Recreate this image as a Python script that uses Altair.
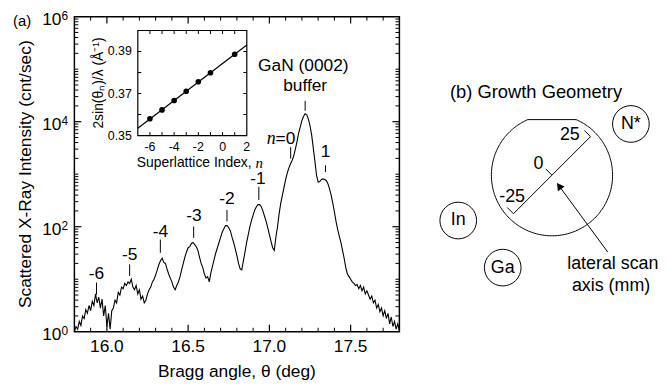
import altair as alt
import pandas as pd
import numpy as np

FONT = "Liberation Sans"
SERIF = "Liberation Serif"
W, H = 328, 318

# ---------------- (a) main scan data ----------------
theta = [
    15.80, 15.81, 15.82, 15.83, 15.84, 15.85, 15.86, 15.87, 15.88, 15.89,
    15.90, 15.91, 15.92, 15.93, 15.94, 15.95, 15.96, 15.97, 15.98, 15.99,
    16.00, 16.01, 16.02, 16.03, 16.04, 16.05, 16.06, 16.07, 16.08, 16.09,
    16.10, 16.11, 16.12, 16.13, 16.14, 16.15, 16.16, 16.17, 16.18, 16.19,
    16.20, 16.21, 16.22, 16.23, 16.24, 16.25, 16.26, 16.27, 16.28, 16.29,
    16.30, 16.31, 16.32, 16.33, 16.34, 16.35, 16.36, 16.37, 16.38, 16.39,
    16.40, 16.41, 16.42, 16.43, 16.44, 16.45, 16.46, 16.47, 16.48, 16.49,
    16.50, 16.51, 16.52, 16.53, 16.54, 16.55, 16.56, 16.57, 16.58, 16.59,
    16.60, 16.61, 16.62, 16.63, 16.64, 16.65, 16.66, 16.67, 16.68, 16.69,
    16.70, 16.71, 16.72, 16.73, 16.74, 16.75, 16.76, 16.77, 16.78, 16.79,
    16.80, 16.81, 16.82, 16.83, 16.84, 16.85, 16.86, 16.87, 16.88, 16.89,
    16.90, 16.91, 16.92, 16.93, 16.94, 16.95, 16.96, 16.97, 16.98, 16.99,
    17.00, 17.01, 17.02, 17.03, 17.04, 17.05, 17.06, 17.07, 17.08, 17.09,
    17.10, 17.11, 17.12, 17.13, 17.14, 17.15, 17.16, 17.17, 17.18, 17.19,
    17.20, 17.21, 17.22, 17.23, 17.24, 17.25, 17.26, 17.27, 17.28, 17.29,
    17.30, 17.31, 17.32, 17.33, 17.34, 17.35, 17.36, 17.37, 17.38, 17.39,
    17.40, 17.41, 17.42, 17.43, 17.44, 17.45, 17.46, 17.47, 17.48, 17.49,
    17.50, 17.51, 17.52, 17.53, 17.54, 17.55, 17.56, 17.57, 17.58, 17.59,
    17.60, 17.61, 17.62, 17.63, 17.64, 17.65, 17.66, 17.67, 17.68, 17.69,
    17.70, 17.71, 17.72, 17.73, 17.74, 17.75, 17.76, 17.77, 17.78, 17.79,
    17.80,
]
counts = [
    1.00, 1.26, 1.12, 1.58, 1.32, 2.00, 1.78, 2.63, 2.24, 3.16,
    2.51, 3.80, 3.16, 5.25, 3.55, 4.57, 2.82, 4.17, 2.00, 3.16,
    1.26, 2.24, 1.12, 2.51, 2.82, 3.98, 3.55, 5.62, 5.01, 7.08,
    6.61, 8.32, 7.59, 8.91, 8.32, 10.0, 7.08, 6.31, 7.59, 5.25,
    6.31, 4.17, 4.79, 3.55, 3.98, 5.25, 6.31, 7.08, 8.91, 10.0,
    12.0, 15.1, 19.1, 22.4, 25.1, 20.9, 20.0, 15.8, 12.6, 10.5,
    8.91, 7.08, 6.31, 7.59, 8.91, 11.2, 15.1, 20.0, 26.3, 33.1,
    39.8, 41.7, 47.9, 50.1, 45.7, 41.7, 35.5, 26.3, 20.0, 16.6,
    12.6, 10.5, 11.2, 8.91, 13.2, 17.8, 24.0, 31.6, 39.8, 50.1,
    63.1, 79.4, 91.2, 105, 105, 95.5, 83.2, 63.1, 50.1, 38.0,
    28.2, 20.0, 15.8, 15.1, 22.4, 33.1, 50.1, 70.8, 100, 132,
    166, 209, 240, 263, 263, 240, 200, 158, 126, 95.5,
    70.8, 52.5, 39.8, 35.5, 63.1, 100, 178, 282, 398, 562,
    794, 1047, 1318, 1585, 1820, 2239, 3020, 4169, 6026, 7943,
    10471, 12589, 14125, 13490, 11220, 8318, 5623, 3162, 1778, 955,
    708, 724, 794, 813, 794, 759, 661, 525, 398, 282,
    191, 126, 89.1, 66.1, 50.1, 35.5, 25.1, 16.6, 12.6, 11.2,
    10.0, 8.91, 8.32, 7.59, 7.94, 6.61, 7.59, 6.03, 7.08, 5.25,
    6.03, 5.01, 4.17, 4.79, 3.55, 3.98, 2.82, 3.31, 2.40, 2.82,
    2.00, 2.51, 1.78, 2.24, 1.41, 1.91, 1.26, 1.58, 1.12, 1.41,
    1.05,
]

# axis ticks / labels of (a)
x_dom = [15.8, 17.8]
y_dom = [1, 1e6]
x_tick_major = [16.0, 16.5, 17.0, 17.5]
x_tick_labels = ["16.0", "16.5", "17.0", "17.5"]
x_tick_minor = [15.9, 16.1, 16.2, 16.3, 16.4, 16.6, 16.7, 16.8, 16.9,
                17.1, 17.2, 17.3, 17.4, 17.6, 17.7]
y_tick_major = [1e2, 1e4]
y_tick_minor = [k * 10 ** d for d in range(6) for k in range(2, 10)] + [10, 1e3, 1e5]
y_label_vals = [1, 1e2, 1e4, 1e6]
y_label_exp = ["0", "2", "4", "6"]
x_title = "Bragg angle, θ (deg)"
y_title = "Scattered X-Ray Intensity (cnt/sec)"

# peak annotations of (a)
ann_text = ["-6", "-5", "-4", "-3", "-2", "-1", "1", "GaN (0002)", "buffer"]
ann_theta = [15.936, 16.140, 16.330, 16.536, 16.739, 16.930, 17.345, 17.209, 17.220]
ann_I = [12.4, 28.7, 79.4, 163, 333, 794, 2630, 114000, 47900]
mark_theta = [15.936, 16.140, 16.329, 16.534, 16.739, 16.935, 17.345, 17.131, 17.220]
mark_lo = [5.06, 11.5, 31.9, 61.2, 126, 324, 1104, 1977, 16144]
mark_hi = [8.67, 19.2, 56.9, 101, 209, 575, 1479, 3273, 24889]
n0_theta = 17.038
n0_I = 4721

# ---------------- inset data ----------------
sl_index = [-6, -5, -4, -3, -2, -1, 1]
sl_g = [0.3580, 0.3622, 0.3667, 0.3711, 0.3756, 0.3799, 0.3887]
in_x_ticks = [-6, -5, -4, -3, -2, -1, 0, 1]
in_y_ticks = [0.36, 0.37, 0.38, 0.39]
in_x_labels = [-6, -4, -2, 0, 2]
in_y_labels = [0.35, 0.37, 0.39]
in_xdom = [-7, 2]
in_ydom = [0.35, 0.40]

# ---------------- (b) growth geometry (mm) ----------------
wafer_r = 27.8
wafer_flat = 25.5
scan_pos = [-25, 0, 25]
scan_lab = ["-25", "0", "25"]
scan_lab_x = [-18.3, -6.2, 8.2]
scan_lab_y = [-9.9, 5.3, 18.2]
src_name = ["In", "Ga", "N*"]
src_x = [-43.0, -22.6, 36.2]
src_y = [-20.8, -42.4, 23.5]
arrow_tail = (25.6, -35.3)
arrow_head = (3.6, -5.4)
note_text = ["lateral scan", "axis (mm)"]
note_x = [27.9, 27.1]
note_y = [-40.9, -50.8]

# ======================================================
xs = alt.Scale(type="linear", domain=x_dom, nice=False, zero=False)
ys = alt.Scale(type="log", domain=y_dom, nice=False)


def ticks(df, xf, yf, xsc, ysc, path, length, sw=1.0):
    return alt.Chart(df).mark_point(
        shape=path, size=(2 * length) ** 2, filled=False, stroke="black",
        strokeWidth=sw, opacity=1
    ).encode(
        x=alt.X(f"{xf}:Q", scale=xsc, axis=None),
        y=alt.Y(f"{yf}:Q", scale=ysc, axis=None),
    )


def text(df, xsc, ysc, **kw):
    style = dict(align="center", baseline="middle", font=FONT, fontSize=17.5, color="black")
    style.update(kw)
    return alt.Chart(df).mark_text(**style).encode(
        x=alt.X("x:Q", scale=xsc, axis=None),
        y=alt.Y("y:Q", scale=ysc, axis=None),
        text="t:N",
    )


scan = pd.DataFrame({"theta": theta, "I": counts})
curve = alt.Chart(scan).mark_line(color="black", strokeWidth=1.1).encode(
    x=alt.X("theta:Q", scale=xs, axis=None),
    y=alt.Y("I:Q", scale=ys, axis=None),
)

xt_maj = pd.DataFrame({"tx": x_tick_major})
xt_min = pd.DataFrame({"tx": x_tick_minor})
yt_maj = pd.DataFrame({"ty": y_tick_major})
yt_min = pd.DataFrame({"ty": y_tick_minor})
for d in (xt_maj, xt_min):
    d["lo"] = y_dom[0]
    d["hi"] = y_dom[1]
for d in (yt_maj, yt_min):
    d["le"] = x_dom[0]
    d["ri"] = x_dom[1]

main_ticks = [
    ticks(xt_maj, "tx", "lo", xs, ys, "M0,0V-1", 7, 1.2),
    ticks(xt_min, "tx", "lo", xs, ys, "M0,0V-1", 4, 1.0),
    ticks(xt_maj, "tx", "hi", xs, ys, "M0,0V1", 7, 1.2),
    ticks(xt_min, "tx", "hi", xs, ys, "M0,0V1", 4, 1.0),
    ticks(yt_maj, "le", "ty", xs, ys, "M0,0H1", 7, 1.2),
    ticks(yt_min, "le", "ty", xs, ys, "M0,0H1", 4, 1.0),
    ticks(yt_maj, "ri", "ty", xs, ys, "M0,0H-1", 7, 1.2),
    ticks(yt_min, "ri", "ty", xs, ys, "M0,0H-1", 4, 1.0),
]

# x tick labels and titles
xlab = pd.DataFrame({"x": x_tick_major, "y": y_dom[0], "t": x_tick_labels})
x_labels = text(xlab, xs, ys, dy=15)
xtit = pd.DataFrame({"x": [sum(x_dom) / 2], "y": [y_dom[0]], "t": [x_title]})
x_tit = text(xtit, xs, ys, dy=41)
ytit = pd.DataFrame({"x": [x_dom[0]], "y": [1e3], "t": [y_title]})
y_tit = text(ytit, xs, ys, angle=270, dy=-49)

ylab_b = pd.DataFrame({"x": x_dom[0], "y": y_label_vals, "t": ["10"] * 4})
ylab_e = pd.DataFrame({"x": x_dom[0], "y": y_label_vals, "t": y_label_exp})
ylab_base = text(ylab_b, xs, ys, align="right", dx=-13, dy=3)
ylab_exp = text(ylab_e, xs, ys, align="left", fontSize=12, dx=-13, dy=-1)

pa = pd.DataFrame({"x": [x_dom[0]], "y": [y_dom[1]], "t": ["(a)"]})
panel_a = text(pa, xs, ys, align="left", fontSize=15, dx=-62, dy=4)

ann = pd.DataFrame({"t": ann_text, "x": ann_theta, "y": ann_I})
ann_layer = text(ann, xs, ys)

marks = pd.DataFrame({"x": mark_theta, "lo": mark_lo, "hi": mark_hi})
mark_layer = alt.Chart(marks).mark_rule(color="black", strokeWidth=1).encode(
    x=alt.X("x:Q", scale=xs, axis=None),
    y=alt.Y("lo:Q", scale=ys, axis=None), y2="hi:Q")

n0a = pd.DataFrame({"x": [n0_theta], "y": [n0_I], "t": ["n"]})
n0b = pd.DataFrame({"x": [n0_theta], "y": [n0_I], "t": ["=0"]})
n0_a = text(n0a, xs, ys, align="right", font=SERIF, fontStyle="italic", fontSize=18)
n0_b = text(n0b, xs, ys, align="left")

main = alt.layer(curve, *main_ticks, x_labels, x_tit, y_tit, ylab_base, ylab_exp, panel_a,
                 ann_layer, mark_layer, n0_a, n0_b)

# ---------------- inset ----------------
ixs = alt.Scale(type="linear", domain=in_xdom, range=[64, 174], nice=False, zero=False)
iys = alt.Scale(type="linear", domain=in_ydom, range=[120, 14], nice=False, zero=False)

box = pd.DataFrame({"x0": [in_xdom[0]], "x1": [in_xdom[1]], "y0": [in_ydom[0]], "y1": [in_ydom[1]]})
in_box = alt.Chart(box).mark_rect(fill="white", stroke="black", strokeWidth=1.2).encode(
    x=alt.X("x0:Q", scale=ixs, axis=None), x2="x1:Q",
    y=alt.Y("y0:Q", scale=iys, axis=None), y2="y1:Q")

ixt = pd.DataFrame({"tx": in_x_ticks, "lo": in_ydom[0], "hi": in_ydom[1]})
iyt = pd.DataFrame({"ty": in_y_ticks, "le": in_xdom[0], "ri": in_xdom[1]})
in_ticks = [
    ticks(ixt, "tx", "lo", ixs, iys, "M0,0V-1", 3.5),
    ticks(ixt, "tx", "hi", ixs, iys, "M0,0V1", 3.5),
    ticks(iyt, "le", "ty", ixs, iys, "M0,0H1", 3.5),
    ticks(iyt, "ri", "ty", ixs, iys, "M0,0H-1", 3.5),
]

sl = pd.DataFrame({"n": sl_index, "g": sl_g})
in_fit = alt.Chart(sl).transform_regression("n", "g", extent=in_xdom).mark_line(
    color="black", strokeWidth=1.2).encode(
    x=alt.X("n:Q", scale=ixs, axis=None), y=alt.Y("g:Q", scale=iys, axis=None))
in_pts = alt.Chart(sl).mark_circle(size=32, color="black", opacity=1).encode(
    x=alt.X("n:Q", scale=ixs, axis=None), y=alt.Y("g:Q", scale=iys, axis=None))

ixl = pd.DataFrame({"x": in_x_labels, "y": in_ydom[0], "t": [str(v) for v in in_x_labels]})
in_xlab = text(ixl, ixs, iys, fontSize=12.5, dy=12)
iyl = pd.DataFrame({"x": in_xdom[0], "y": in_y_labels, "t": [f"{v:.2f}" for v in in_y_labels]})
in_ylab = text(iyl, ixs, iys, align="right", fontSize=12.5, dx=-6)

ita = pd.DataFrame({"x": [in_xdom[1] + 0.4], "y": [in_ydom[0]], "t": ["Superlattice Index,"]})
itb = pd.DataFrame({"x": [in_xdom[1] + 0.4], "y": [in_ydom[0]], "t": ["n"]})
in_xt_a = text(ita, ixs, iys, align="right", fontSize=14, dy=27.5)
in_xt_b = text(itb, ixs, iys, align="left", font=SERIF, fontStyle="italic", fontSize=15,
               dy=27.5, dx=4)
iyt_t = pd.DataFrame({"x": [in_xdom[0]], "y": [sum(in_ydom) / 2], "t": ["2sin(θₙ)/λ (Å⁻¹)"]})
in_yt = text(iyt_t, ixs, iys, fontSize=14, angle=270, dy=-39)

inset = alt.layer(in_box, *in_ticks, in_fit, in_pts, in_xlab, in_ylab, in_xt_a, in_xt_b, in_yt)

# ---------------- (b) ----------------
bxs = alt.Scale(type="linear", domain=[-40, 40], range=[394, 570], nice=False, zero=False)
bys = alt.Scale(type="linear", domain=[-40, 40], range=[248, 72], nice=False, zero=False)

a0 = np.degrees(np.arcsin(wafer_flat / wafer_r))
ang = np.radians(np.linspace(a0, a0 - (180 + 2 * a0), 200))
wx = list(wafer_r * np.cos(ang)) + [wafer_r * np.cos(ang[0])]
wy = list(wafer_r * np.sin(ang)) + [wafer_r * np.sin(ang[0])]
wafer = pd.DataFrame({"x": wx, "y": wy, "k": range(len(wx))})
b_wafer = alt.Chart(wafer).mark_line(color="black", strokeWidth=1).encode(
    x=alt.X("x:Q", scale=bxs, axis=None), y=alt.Y("y:Q", scale=bys, axis=None),
    order="k:Q")

c45 = np.cos(np.pi / 4)
scan_df = pd.DataFrame({"x": [scan_pos[0] * c45], "y": [scan_pos[0] * c45],
                        "x2": [scan_pos[-1] * c45], "y2": [scan_pos[-1] * c45]})
b_scan = alt.Chart(scan_df).mark_rule(color="black", strokeWidth=1).encode(
    x=alt.X("x:Q", scale=bxs, axis=None), y=alt.Y("y:Q", scale=bys, axis=None),
    x2="x2:Q", y2="y2:Q")
tk = 4.0
stick = pd.DataFrame({"x": [p * c45 for p in scan_pos], "y": [p * c45 for p in scan_pos]})
stick["x2"] = stick["x"] - tk * c45
stick["y2"] = stick["y"] + tk * c45
b_sticks = alt.Chart(stick).mark_rule(color="black", strokeWidth=1).encode(
    x=alt.X("x:Q", scale=bxs, axis=None), y=alt.Y("y:Q", scale=bys, axis=None),
    x2="x2:Q", y2="y2:Q")
slab = pd.DataFrame({"x": scan_lab_x, "y": scan_lab_y, "t": scan_lab})
b_slab = text(slab, bxs, bys, fontSize=18)

src = pd.DataFrame({"x": src_x, "y": src_y, "t": src_name})
b_src = alt.Chart(src).mark_point(shape="circle", size=37 ** 2, filled=False, stroke="black",
                                  strokeWidth=1, opacity=1).encode(
    x=alt.X("x:Q", scale=bxs, axis=None), y=alt.Y("y:Q", scale=bys, axis=None))
b_srct = text(src, bxs, bys, fontSize=18)

arr = pd.DataFrame({"x": [arrow_tail[0]], "y": [arrow_tail[1]],
                    "x2": [arrow_head[0]], "y2": [arrow_head[1]]})
ddx = arrow_head[0] - arrow_tail[0]
ddy = arrow_head[1] - arrow_tail[1]
arr_angle = float(np.degrees(np.arctan2(ddx, ddy)) % 360)
b_arrow = alt.Chart(arr).mark_rule(color="black", strokeWidth=1).encode(
    x=alt.X("x:Q", scale=bxs, axis=None), y=alt.Y("y:Q", scale=bys, axis=None),
    x2="x2:Q", y2="y2:Q")
b_head = alt.Chart(arr).mark_point(shape="triangle", size=70, filled=True, color="black",
                                   opacity=1, angle=arr_angle).encode(
    x=alt.X("x2:Q", scale=bxs, axis=None), y=alt.Y("y2:Q", scale=bys, axis=None))

note = pd.DataFrame({"x": note_x, "y": note_y, "t": note_text})
b_note = text(note, bxs, bys, fontSize=18)

btitle = pd.DataFrame({"x": [-46.8], "y": [38.3], "t": ["(b) Growth Geometry"]})
b_title = text(btitle, bxs, bys, align="left", fontSize=18.5)

panel_b = alt.layer(b_wafer, b_scan, b_sticks, b_slab, b_src, b_srct, b_arrow, b_head,
                    b_note, b_title)

chart = alt.layer(main, inset, panel_b).resolve_scale(
    x="independent", y="independent"
).properties(
    width=W, height=H,
    autosize=alt.AutoSizeParams(type="none"),
    padding={"left": 67, "top": 7, "right": 262, "bottom": 50},
).configure_view(stroke="black", strokeWidth=1.5)

chart.save("out.html", embed_options={"renderer": "svg", "actions": False})
